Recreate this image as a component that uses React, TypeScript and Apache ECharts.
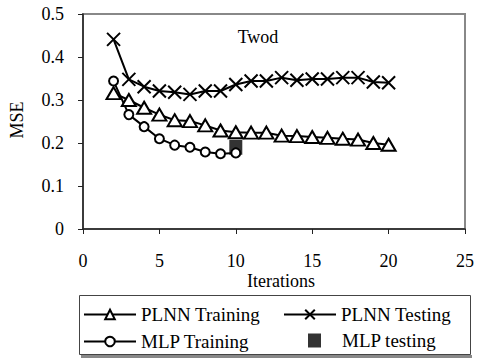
import React, { useEffect, useRef } from "react";
import * as echarts from "echarts";

const iterations = [2, 3, 4, 5, 6, 7, 8, 9, 10, 11, 12, 13, 14, 15, 16, 17, 18, 19, 20];
const plnnTraining = [0.316, 0.3, 0.282, 0.266, 0.253, 0.251, 0.241, 0.229, 0.225, 0.224, 0.224, 0.217, 0.216, 0.214, 0.212, 0.21, 0.208, 0.2, 0.196];
const plnnTesting = [0.441, 0.348, 0.331, 0.321, 0.318, 0.313, 0.321, 0.321, 0.336, 0.344, 0.344, 0.352, 0.346, 0.349, 0.349, 0.352, 0.352, 0.342, 0.34];
const mlpIterations = [2, 3, 4, 5, 6, 7, 8, 9, 10];
const mlpTraining = [0.344, 0.266, 0.238, 0.21, 0.195, 0.19, 0.179, 0.175, 0.177];
const mlpTestIter = [10];
const mlpTesting = [0.19];
const yTicks = { min: 0, max: 0.5, interval: 0.1 };
const xTicks = { min: 0, max: 25, interval: 5 };

const FONT = "Liberation Serif";
const X_SYMBOL = "path://M0,0L10,10M10,0L0,10";

export default function App() {
  const ref = useRef<HTMLDivElement>(null);
  useEffect(() => {
    document.body.style.margin = "0";
    const chart = echarts.init(ref.current!, null, { renderer: "svg" });
    const pair = (xs: number[], ys: number[]) => xs.map((x, i) => [x, ys[i]]);
    const legendText = { fontFamily: FONT, fontSize: 19, color: "#000", lineHeight: 14 };
    chart.setOption({
      animation: false,
      backgroundColor: "#fff",
      grid: { left: 83, right: 12, top: 14, bottom: 129, show: true, borderColor: "#888", borderWidth: 2 },
      xAxis: {
        type: "value",
        min: xTicks.min,
        max: xTicks.max,
        interval: xTicks.interval,
        splitLine: { show: false },
        axisLine: { lineStyle: { color: "#222", width: 1.5 } },
        axisTick: { length: 5, lineStyle: { color: "#222" } },
        axisLabel: { fontFamily: FONT, fontSize: 18, color: "#000", margin: 23 },
      },
      yAxis: {
        type: "value",
        min: yTicks.min,
        max: yTicks.max,
        interval: yTicks.interval,
        splitLine: { show: false },
        axisLine: { show: true, lineStyle: { color: "#222", width: 1.5 } },
        axisTick: { show: true, length: 5, lineStyle: { color: "#222" } },
        axisLabel: { fontFamily: FONT, fontSize: 18, color: "#000", margin: 19 },
      },
      legend: [
        {
          data: ["PLNN Training", "MLP Training"],
          orient: "vertical",
          left: 83,
          top: 305,
          height: 100,
          itemWidth: 52,
          itemHeight: 12,
          itemGap: 8,
          padding: 0,
          textStyle: legendText,
        },
        {
          data: ["PLNN Testing"],
          orient: "vertical",
          left: 283,
          top: 305,
          height: 100,
          itemWidth: 52,
          itemHeight: 12,
          padding: 0,
          textStyle: legendText,
        },
        {
          data: ["MLP testing"],
          orient: "vertical",
          left: 308,
          top: 331,
          height: 100,
          itemWidth: 13,
          itemHeight: 14,
          padding: 0,
          textStyle: { ...legendText, padding: [0, 0, 0, 16] },
        },
      ],
      graphic: [
        {
          type: "text",
          x: 258,
          y: 37,
          style: { text: "Twod", font: `18px ${FONT}`, fill: "#000", align: "center", verticalAlign: "middle" },
        },
        {
          type: "text",
          x: 281,
          y: 281,
          style: { text: "Iterations", font: `18px ${FONT}`, fill: "#000", align: "center", verticalAlign: "middle" },
        },
        {
          type: "text",
          x: 17,
          y: 120,
          rotation: Math.PI / 2,
          style: { text: "MSE", font: `18px ${FONT}`, fill: "#000", align: "center", verticalAlign: "middle" },
        },
        {
          type: "rect",
          shape: { x: 79.5, y: 295.5, width: 391, height: 59 },
          style: { fill: "none", stroke: "#444", lineWidth: 1 },
        },
        {
          type: "rect",
          shape: { x: 81, y: 355, width: 391, height: 3 },
          style: { fill: "#888" },
        },
      ],
      series: [
        {
          name: "MLP testing",
          type: "scatter",
          data: pair(mlpTestIter, mlpTesting),
          symbol: "rect",
          symbolSize: [13, 15],
          itemStyle: { color: "#000" },
          z: 1,
        },
        {
          name: "MLP Training",
          type: "line",
          data: pair(mlpIterations, mlpTraining),
          symbol: "circle",
          symbolSize: 9,
          lineStyle: { color: "#000", width: 2 },
          itemStyle: { color: "#fff", borderColor: "#000", borderWidth: 2 },
          z: 2,
        },
        {
          name: "PLNN Training",
          type: "line",
          data: pair(iterations, plnnTraining),
          symbol: "triangle",
          symbolSize: [14, 12],
          lineStyle: { color: "#000", width: 2 },
          itemStyle: { color: "#fff", borderColor: "#000", borderWidth: 2 },
          z: 3,
        },
        {
          name: "PLNN Testing",
          type: "line",
          data: pair(iterations, plnnTesting),
          symbol: X_SYMBOL,
          symbolSize: 13,
          lineStyle: { color: "#000", width: 2 },
          itemStyle: { color: "#fff", borderColor: "#000", borderWidth: 2 },
          z: 4,
        },
      ],
    });
    return () => chart.dispose();
  }, []);
  return <div ref={ref} style={{ position: "absolute", left: 0, top: 0, width: 477, height: 358 }} />;
}
